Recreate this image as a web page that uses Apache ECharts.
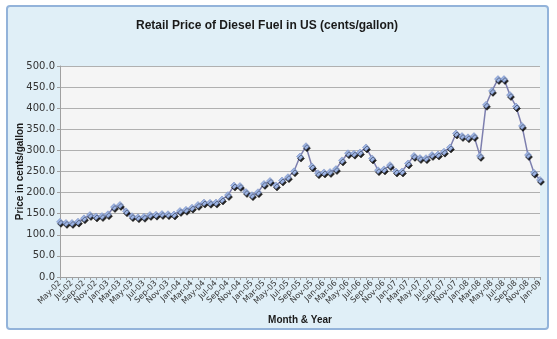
<!DOCTYPE html>
<html>
<head>
<meta charset="utf-8">
<script src="https://cdn.jsdelivr.net/npm/echarts@6/dist/echarts.min.js"></script>
<style>
html,body{margin:0;padding:0;background:#ffffff;}
#c{width:557px;height:339px;}
</style>
</head>
<body>
<div id="c"></div>
<script>
const categories = [
 'May-02','Jun-02','Jul-02','Aug-02','Sep-02','Oct-02','Nov-02','Dec-02',
 'Jan-03','Feb-03','Mar-03','Apr-03','May-03','Jun-03','Jul-03','Aug-03','Sep-03','Oct-03','Nov-03','Dec-03',
 'Jan-04','Feb-04','Mar-04','Apr-04','May-04','Jun-04','Jul-04','Aug-04','Sep-04','Oct-04','Nov-04','Dec-04',
 'Jan-05','Feb-05','Mar-05','Apr-05','May-05','Jun-05','Jul-05','Aug-05','Sep-05','Oct-05','Nov-05','Dec-05',
 'Jan-06','Feb-06','Mar-06','Apr-06','May-06','Jun-06','Jul-06','Aug-06','Sep-06','Oct-06','Nov-06','Dec-06',
 'Jan-07','Feb-07','Mar-07','Apr-07','May-07','Jun-07','Jul-07','Aug-07','Sep-07','Oct-07','Nov-07','Dec-07',
 'Jan-08','Feb-08','Mar-08','Apr-08','May-08','Jun-08','Jul-08','Aug-08','Sep-08','Oct-08','Nov-08','Dec-08',
 'Jan-09'
];
const prices = [
 130.7, 128.1, 128.1, 131.2, 139.0, 146.9, 143.5, 144.3,
 148.7, 165.7, 170.8, 155.6, 144.2, 141.4, 142.6, 147.0, 147.6, 149.2, 148.8, 148.1,
 156.4, 159.2, 164.3, 170.8, 176.4, 175.9, 176.3, 183.6, 194.1, 216.7, 215.5, 201.3,
 193.9, 200.9, 220.6, 227.6, 217.1, 228.6, 236.5, 250.4, 285.4, 310.0, 262.0, 245.8,
 247.8, 248.8, 255.7, 276.3, 293.2, 292.2, 295.2, 307.0, 281.0, 253.0, 255.0, 265.0,
 250.0, 250.0, 269.0, 287.0, 281.7, 281.6, 289.1, 290.2, 297.0, 307.0, 340.0, 334.0,
 331.0, 334.0, 287.0, 408.0, 441.0, 469.0, 469.0, 431.0, 404.0, 358.0, 289.0, 247.0,
 230.0
];
const yMin = 0, yMax = 500, yStep = 50;

const chart = echarts.init(document.getElementById('c'), null, {renderer:'canvas'});
chart.setOption({
  animation:false,
  backgroundColor:'#ffffff',
  graphic:[
    {type:'rect', shape:{x:7,y:6,width:541,height:323,r:3}, z:-10,
     style:{fill:'#e0eff7', stroke:'#93b3da', lineWidth:2}}
  ],
  title:{
    text:'Retail Price of Diesel Fuel in US (cents/gallon)',
    left:131, top:15,
    textStyle:{fontFamily:'Liberation Sans', fontWeight:'bold', fontSize:12, color:'#1a1a1a'}
  },
  grid:{left:60, right:17, top:66, bottom:62, show:true, backgroundColor:'#f5f5f5', borderWidth:0},
  xAxis:{
    type:'category', data:categories, boundaryGap:false,
    name:'Month & Year', nameLocation:'middle', nameGap:38,
    nameTextStyle:{fontFamily:'Liberation Sans', fontWeight:'bold', fontSize:10, color:'#1a1a1a'},
    axisLine:{lineStyle:{color:'#a0a0a0'}},
    axisTick:{show:true, interval:0, length:3, lineStyle:{color:'#a0a0a0'}},
    axisLabel:{interval:1, rotate:45, fontSize:8, color:'#333', fontFamily:'DejaVu Sans', margin:5}
  },
  yAxis:{
    type:'value', min:yMin, max:yMax, interval:yStep,
    name:'Price in cents/gallon', nameLocation:'middle', nameGap:35, nameMoveOverlap:false,
    nameTextStyle:{fontFamily:'Liberation Sans', fontWeight:'bold', fontSize:10, color:'#1a1a1a'},
    axisLine:{show:true, lineStyle:{color:'#a0a0a0'}},
    axisTick:{show:true, length:3, lineStyle:{color:'#a0a0a0'}},
    axisLabel:{formatter:v=>v.toFixed(1), fontSize:10, color:'#333', fontFamily:'DejaVu Sans', margin:5},
    splitLine:{lineStyle:{color:'#b0b0b0', width:1}}
  },
  series:[{
    type:'line', data:prices,
    symbol:'diamond', symbolSize:7, showSymbol:true, showAllSymbol:true,
    lineStyle:{color:'#7d7fae', width:1.5},
    itemStyle:{color:'#9db4e4', borderColor:'#6d82b8', borderWidth:0.5,
      shadowColor:'rgba(0,0,0,0.85)', shadowOffsetX:1, shadowOffsetY:2, shadowBlur:0}
  }]
});
</script>
</body>
</html>
